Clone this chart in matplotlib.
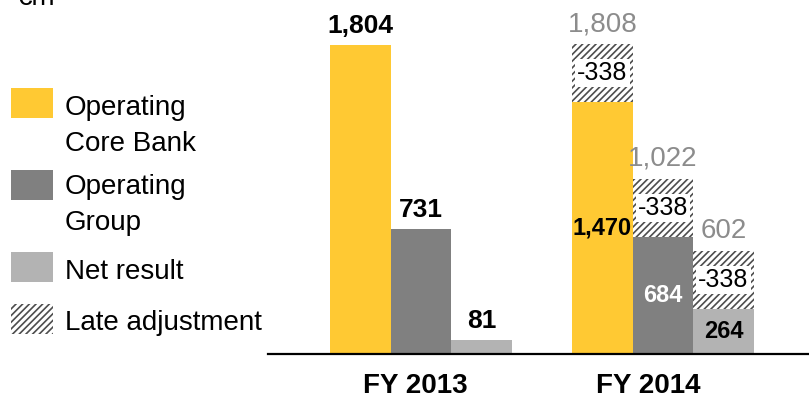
import matplotlib
matplotlib.use("Agg")
import matplotlib.pyplot as plt
from matplotlib.patches import Rectangle
import numpy as np

# values in EUR m
years = ["FY 2013", "FY 2014"]
series = ["Operating\nCore Bank", "Operating\nGroup", "Net result"]
core_bank = [1804, 1470]
group = [731, 684]
net_result = [81, 264]
late_adjustment = [0, 338]  # only FY 2014 got the late adjustment

YELLOW = "#FFC933"
DARK = "#808080"
LIGHT = "#B3B3B3"
TOTAL_GREY = "#8C8C8C"
HATCH = "#4D4D4D"

plt.rcParams["font.family"] = ["Liberation Sans", "DejaVu Sans"]
plt.rcParams["hatch.linewidth"] = 1.2

W, H = 809, 400
fig = plt.figure(figsize=(W / 100, H / 100), dpi=100)
ax = fig.add_axes([268 / W, (H - 354) / H, (W - 268) / W, 354 / H])

width = 0.25
pos = np.arange(len(years))
colors = [YELLOW, DARK, LIGHT]
inner_text = ["black", "white", "black"]
vals_all = [core_bank, group, net_result]

for i, (vals, col) in enumerate(zip(vals_all, colors)):
    x = pos + (i - 1) * width
    ax.bar(x, vals, width, color=col, linewidth=0)
    ax.bar(x, late_adjustment, width, bottom=vals, color="white",
           edgecolor=HATCH, hatch="/////", linewidth=0)
    for xi, v, adj in zip(x, vals, late_adjustment):
        if adj == 0:
            ax.annotate("{:,}".format(v), (xi, v), xytext=(0, 5),
                        textcoords="offset points", ha="center", va="bottom",
                        fontsize=19, fontweight="bold")
        else:
            ax.text(xi, v / 2, "{:,}".format(v), ha="center", va="center",
                    fontsize=17, fontweight="bold", color=inner_text[i])
            ax.text(xi, v + adj / 2, "-{}".format(adj), ha="center",
                    va="center", fontsize=18,
                    bbox=dict(facecolor="white", edgecolor="none", pad=1.5))
            ax.annotate("{:,}".format(v + adj), (xi, v + adj), xytext=(0, 5),
                        textcoords="offset points", ha="center", va="bottom",
                        fontsize=20, color=TOTAL_GREY)

ax.set_xlim(-0.632, 1.603)
ax.set_ylim(0, 2066)
ax.set_xticks(pos + np.array([-0.025, -0.062]))
ax.set_xticklabels(years, fontsize=20, fontweight="bold")
ax.tick_params(axis="x", length=0, pad=14)
ax.set_yticks([])
for s in ["top", "left", "right"]:
    ax.spines[s].set_visible(False)
ax.spines["bottom"].set_linewidth(1.6)

# unit (cut at the top edge like the original slide)
fig.text(17 / W, 1 - 5 / H, "€m", fontsize=20, va="baseline")

# legend drawn by hand on the left
leg_labels = series + ["Late adjustment"]
box_top = [88, 170, 252, 304]
text_base = [151, 230, 279, 330]  # baseline of the last line
for lab, col, bt, tb in zip(leg_labels, colors + ["white"], box_top, text_base):
    hatched = lab == "Late adjustment"
    fig.patches.append(Rectangle((11 / W, 1 - (bt + 30) / H), 42 / W, 30 / H,
                                 transform=fig.transFigure, facecolor=col,
                                 edgecolor=HATCH if hatched else col,
                                 hatch="/////" if hatched else None,
                                 linewidth=0))
    fig.text(65 / W, 1 - tb / H, lab, fontsize=20, va="baseline",
             linespacing=1.5)

fig.savefig("out.png", dpi=100)
